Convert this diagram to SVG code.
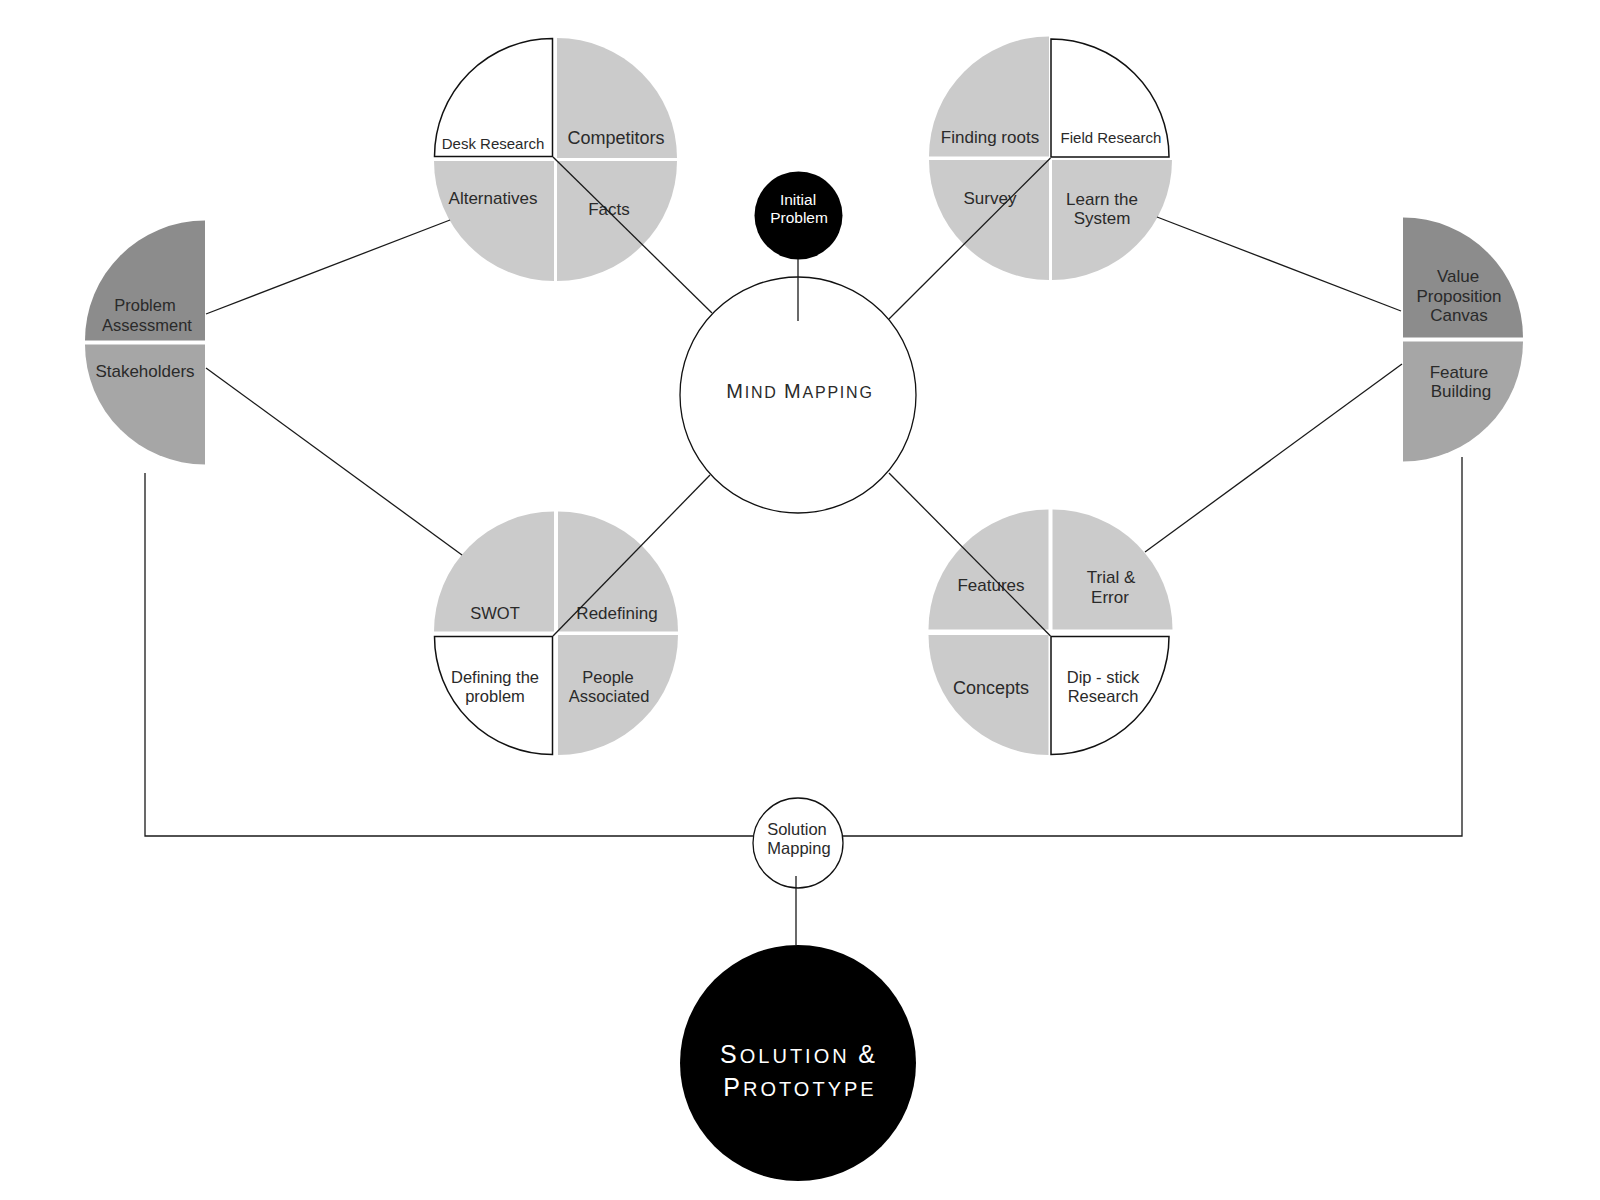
<svg xmlns="http://www.w3.org/2000/svg" xmlns:xlink="http://www.w3.org/1999/xlink" width="1600" height="1200" viewBox="0 0 1600 1200">
<style>
  text { font-family: "Liberation Sans", Arial, sans-serif; fill: #2a2a2a; text-anchor: middle; }
  .g { fill: #cbcbcb; }
  .dk { fill: #8c8c8c; }
  .md { fill: #a6a6a6; }
  .w { fill: #ffffff; stroke: #111; stroke-width: 1.5; stroke-linejoin: miter; }
  .ln { fill: none; stroke: #1a1a1a; stroke-width: 1.3; }
  .t15 { font-size: 15px; }
  .t16 { font-size: 16.5px; }
  .t17 { font-size: 17px; }
  .t18 { font-size: 18px; }
  .wt { fill: #ffffff; }
</style>
<defs>
  <path id="qtr" d="M0,0 H120 A120,120 0 0 0 0,-120 Z"/>
  <path id="qtl" d="M0,0 V-120 A120,120 0 0 0 -120,0 Z"/>
  <path id="qbl" d="M0,0 H-120 A120,120 0 0 0 0,120 Z"/>
  <path id="qbr" d="M0,0 V120 A120,120 0 0 0 120,0 Z"/>
  <path id="wtl" d="M0,0 V-118 A118,118 0 0 0 -118,0 Z"/>
  <path id="wtr" d="M0,0 H118 A118,118 0 0 0 0,-118 Z"/>
  <path id="wbl" d="M0,0 H-118 A118,118 0 0 0 0,118 Z"/>
  <path id="wbr" d="M0,0 V118 A118,118 0 0 0 118,0 Z"/>
</defs>
<rect width="1600" height="1200" fill="#ffffff"/>

<!-- Desk Research circle -->
<g id="desk-research">
  <use xlink:href="#wtl" class="w" x="552.5" y="156.5"/>
  <use xlink:href="#qtr" class="g" x="557" y="158"/>
  <use xlink:href="#qbl" class="g" x="554" y="161"/>
  <use xlink:href="#qbr" class="g" x="557" y="161"/>
  <text class="t15" x="493" y="149">Desk Research</text>
  <text class="t18" x="616" y="144">Competitors</text>
  <text class="t17" x="493" y="204">Alternatives</text>
  <text class="t17" x="609" y="215">Facts</text>
</g>

<!-- Field Research circle -->
<g id="field-research">
  <use xlink:href="#qtl" class="g" x="1049" y="156.5"/>
  <use xlink:href="#wtr" class="w" x="1051" y="157"/>
  <use xlink:href="#qbl" class="g" x="1049" y="160"/>
  <use xlink:href="#qbr" class="g" x="1052" y="160"/>
  <text class="t17" x="990" y="143">Finding roots</text>
  <text class="t15" x="1111" y="143">Field Research</text>
  <text class="t17" x="990" y="204">Survey</text>
  <text class="t17" x="1102" y="205">Learn the</text>
  <text class="t17" x="1102" y="224">System</text>
</g>

<!-- Defining the problem circle -->
<g id="defining-problem">
  <use xlink:href="#qtl" class="g" x="554" y="631.5"/>
  <use xlink:href="#qtr" class="g" x="558" y="631.5"/>
  <use xlink:href="#wbl" class="w" x="552.5" y="636.5"/>
  <use xlink:href="#qbr" class="g" x="558" y="635"/>
  <text class="t16" x="495" y="619">SWOT</text>
  <text class="t17" x="617" y="619">Redefining</text>
  <text class="t16" x="495" y="683">Defining the</text>
  <text class="t16" x="495" y="702">problem</text>
  <text class="t16" x="608" y="683">People</text>
  <text class="t16" x="609" y="702">Associated</text>
</g>

<!-- Dip-stick Research circle -->
<g id="dipstick-research">
  <use xlink:href="#qtl" class="g" x="1048.5" y="629.5"/>
  <use xlink:href="#qtr" class="g" x="1052.5" y="629.5"/>
  <use xlink:href="#qbl" class="g" x="1048.5" y="635"/>
  <use xlink:href="#wbr" class="w" x="1051" y="636.5"/>
  <text class="t17" x="991" y="591">Features</text>
  <text class="t17" x="1111" y="583">Trial &amp;</text>
  <text class="t17" x="1110" y="603">Error</text>
  <text class="t18" x="991" y="694">Concepts</text>
  <text class="t16" x="1103" y="683">Dip - stick</text>
  <text class="t16" x="1103" y="702">Research</text>
</g>

<!-- Problem Assessment half -->
<g id="problem-assessment">
  <use xlink:href="#qtl" class="dk" x="205" y="340.5"/>
  <use xlink:href="#qbl" class="md" x="205" y="344.5"/>
  <text class="t16" x="145" y="311">Problem</text>
  <text class="t16" x="147" y="331">Assessment</text>
  <text class="t17" x="145" y="377">Stakeholders</text>
</g>

<!-- Value Proposition half -->
<g id="value-proposition">
  <use xlink:href="#qtr" class="dk" x="1403" y="337.5"/>
  <use xlink:href="#qbr" class="md" x="1403" y="341.5"/>
  <text class="t17" x="1458" y="282">Value</text>
  <text class="t17" x="1459" y="302">Proposition</text>
  <text class="t17" x="1459" y="321">Canvas</text>
  <text class="t17" x="1459" y="378">Feature</text>
  <text class="t17" x="1461" y="397">Building</text>
</g>

<!-- Initial Problem -->
<g id="initial-problem">
  <circle cx="798.5" cy="215.5" r="44" fill="#000"/>
  <text class="wt" x="798" y="205" style="font-size:15.5px">Initial</text>
  <text class="wt" x="799" y="223" style="font-size:15.5px">Problem</text>
</g>

<!-- Mind Mapping -->
<g id="mind-mapping">
  <circle cx="798" cy="395" r="118" fill="#fff" stroke="#111" stroke-width="1.3"/>
  <text x="800" y="398" style="letter-spacing:1.8px"><tspan style="font-size:20px">M</tspan><tspan style="font-size:16px">IND </tspan><tspan style="font-size:20px">M</tspan><tspan style="font-size:16px">APPING</tspan></text>
</g>

<!-- Solution Mapping -->
<g id="solution-mapping">
  <circle cx="798" cy="843" r="45" fill="#fff" stroke="#111" stroke-width="1.3"/>
  <text class="t16" x="797" y="835">Solution</text>
  <text class="t16" x="799" y="854">Mapping</text>
</g>

<!-- Solution & Prototype -->
<g id="solution-prototype">
  <circle cx="798" cy="1063" r="118" fill="#000"/>
  <text class="wt" x="799" y="1063" style="letter-spacing:3px"><tspan style="font-size:25px">S</tspan><tspan style="font-size:20px">OLUTION </tspan><tspan style="font-size:25px">&amp;</tspan></text>
  <text class="wt" x="800" y="1096" style="letter-spacing:3px"><tspan style="font-size:25px">P</tspan><tspan style="font-size:20px">ROTOTYPE</tspan></text>
</g>

<!-- Connectors -->
<g id="connectors" class="ln">
  <line x1="206" y1="314" x2="450" y2="220"/>
  <line x1="206" y1="368" x2="462" y2="555"/>
  <line x1="553" y1="157" x2="712" y2="313"/>
  <line x1="1050.5" y1="158" x2="889" y2="319"/>
  <line x1="553" y1="636" x2="710" y2="475"/>
  <line x1="1050.5" y1="636" x2="889" y2="473"/>
  <line x1="1157" y1="217" x2="1401" y2="311"/>
  <line x1="1145" y1="552" x2="1402" y2="364"/>
  <line x1="798" y1="259" x2="798" y2="321"/>
  <polyline points="145,473 145,836 753,836"/>
  <polyline points="1462,457 1462,836 843,836"/>
  <line x1="796" y1="876" x2="796" y2="945"/>
</g>
</svg>
